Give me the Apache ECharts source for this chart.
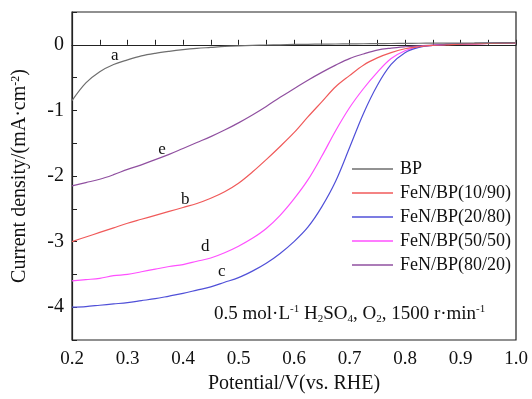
<!DOCTYPE html>
<html>
<head>
<meta charset="utf-8">
<script src="https://cdn.jsdelivr.net/npm/echarts@6/dist/echarts.min.js"></script>
<style>
  html, body { margin: 0; padding: 0; background: #fff; }
  #main { width: 532px; height: 399px; }
</style>
</head>
<body>
<div id="main"></div>
<script>
// potential (V vs. RHE)
const potential = [0.2, 0.225, 0.25, 0.275, 0.3, 0.325, 0.35, 0.375, 0.4, 0.425, 0.45, 0.475, 0.5,
  0.525, 0.55, 0.575, 0.6, 0.625, 0.65, 0.675, 0.7, 0.725, 0.75, 0.775, 0.8, 0.825, 0.85,
  0.875, 0.9, 0.925, 0.95, 0.975, 1.0];

// current density (mA/cm2)
const bp = [-0.85, -0.58, -0.41, -0.3, -0.23, -0.17, -0.13, -0.1, -0.075, -0.055, -0.04, -0.025, -0.015,
  -0.008, -0.003, 0, 0.005, 0.008, 0.01, 0.012, 0.014, 0.016, 0.018, 0.02, 0.022, 0.024, 0.025,
  0.026, 0.027, 0.028, 0.03, 0.03, 0.03];
const fen1090 = [-3.0, -2.93, -2.86, -2.79, -2.72, -2.66, -2.6, -2.54, -2.48, -2.42, -2.34, -2.24, -2.11,
  -1.94, -1.75, -1.55, -1.34, -1.1, -0.87, -0.64, -0.47, -0.31, -0.2, -0.12, -0.06, -0.03, -0.01,
  0.0, 0.01, 0.015, 0.02, 0.025, 0.03];
const fen2080 = [-4.0, -3.99, -3.97, -3.95, -3.93, -3.9, -3.87, -3.83, -3.79, -3.74, -3.69, -3.62, -3.55,
  -3.45, -3.33, -3.18, -3.0, -2.78, -2.47, -2.08, -1.57, -1.05, -0.62, -0.3, -0.12, -0.04, -0.01,
  0.005, 0.015, 0.02, 0.025, 0.03, 0.035];
const fen5050 = [-3.6, -3.58, -3.56, -3.52, -3.5, -3.46, -3.42, -3.38, -3.35, -3.3, -3.25, -3.17, -3.07,
  -2.95, -2.8, -2.6, -2.35, -2.06, -1.7, -1.31, -0.96, -0.67, -0.42, -0.21, -0.09, -0.03, -0.01,
  0.005, 0.01, 0.015, 0.02, 0.025, 0.03];
const fen8020 = [-2.15, -2.1, -2.05, -1.98, -1.9, -1.83, -1.75, -1.67, -1.58, -1.49, -1.4, -1.3, -1.19,
  -1.07, -0.94, -0.8, -0.67, -0.54, -0.42, -0.31, -0.21, -0.14, -0.08, -0.05, -0.03, -0.015, -0.005,
  0.005, 0.01, 0.015, 0.02, 0.025, 0.03];

const names = ['BP', 'FeN/BP(10/90)', 'FeN/BP(20/80)', 'FeN/BP(50/50)', 'FeN/BP(80/20)'];
const values = [bp, fen1090, fen2080, fen5050, fen8020];
const colors = ['#6e6e6e', '#f05a5a', '#5050d8', '#ff50ff', '#9050a0'];
// curve letters: [letter, potential, current]
const letters = [['a', 0.277, -0.17], ['b', 0.404, -2.36], ['c', 0.47, -3.45], ['d', 0.44, -3.08], ['e', 0.362, -1.6]];

const font = 'Liberation Serif';
const chart = echarts.init(document.getElementById('main'));

const series = names.map((n, i) => ({
  name: n,
  type: 'line',
  symbol: 'none',
  smooth: 0.35,
  lineStyle: { width: 1.2, color: colors[i] },
  itemStyle: { color: colors[i] },
  data: potential.map((x, j) => [x, values[i][j]]),
  markPoint: {
    symbol: 'circle',
    symbolSize: 0,
    label: { show: true, formatter: letters[i][0], color: '#111', fontFamily: font, fontSize: 17 },
    data: [{ coord: [letters[i][1], letters[i][2]] }]
  },
  z: 5 - i
}));

chart.setOption({
  animation: false,
  textStyle: { fontFamily: font },
  grid: { left: 72, right: 16, top: 12, bottom: 57, show: true, borderColor: '#222', borderWidth: 1.2 },
  legend: {
    orient: 'vertical',
    left: 347,
    top: 155,
    icon: 'rect',
    itemWidth: 41,
    itemHeight: 1.6,
    itemGap: 6,
    data: names,
    textStyle: { fontFamily: font, fontSize: 18, color: '#111', lineHeight: 18, padding: [0, 0, 0, 2] }
  },
  xAxis: {
    type: 'value',
    min: 0.2,
    max: 1.0,
    interval: 0.1,
    name: 'Potential/V(vs. RHE)',
    nameLocation: 'middle',
    nameGap: 34,
    nameTextStyle: { fontFamily: font, fontSize: 20, color: '#111' },
    axisLine: { lineStyle: { color: '#222', width: 1.2 } },
    axisTick: { inside: true, length: 5, lineStyle: { color: '#222' } },
    minorTick: { show: true, splitNumber: 2, length: 5, lineStyle: { color: '#222' } },
    axisLabel: { fontFamily: font, fontSize: 19, color: '#111', margin: 10, formatter: v => v.toFixed(1) },
    splitLine: { show: false }
  },
  yAxis: {
    type: 'value',
    min: -4.5,
    max: 0.5,
    interval: 0.5,
    name: 'Current density/(mA·cm{sup|-2})',
    nameLocation: 'middle',
    nameGap: 42,
    nameTextStyle: {
      fontFamily: font, fontSize: 20, color: '#111',
      rich: { sup: { fontFamily: font, fontSize: 12, verticalAlign: 'top', lineHeight: 12, padding: [0, 0, 10, 0] } }
    },
    axisLine: { lineStyle: { color: '#222', width: 1.2 } },
    axisTick: { inside: true, length: 5, lineStyle: { color: '#222' } },
    axisLabel: {
      fontFamily: font, fontSize: 20, color: '#111', margin: 8,
      formatter: v => (Math.abs(v - Math.round(v)) < 1e-6 ? String(Math.round(v)) : '')
    },
    splitLine: { show: false }
  },
  graphic: [{
    type: 'text',
    left: 214,
    top: 304,
    style: {
      text: '0.5 mol·L{sup|-1} H{sub|2}SO{sub|4}, O{sub|2}, 1500 r·min{sup|-1}',
      font: '19px "Liberation Serif"',
      fill: '#111',
      rich: {
        sup: { fontSize: 11, fontFamily: font, verticalAlign: 'top', padding: [0, 0, 10, 0] },
        sub: { fontSize: 11, fontFamily: font, verticalAlign: 'bottom', padding: [10, 0, 0, 0] }
      }
    }
  }],
  series: series
});
</script>
</body>
</html>
